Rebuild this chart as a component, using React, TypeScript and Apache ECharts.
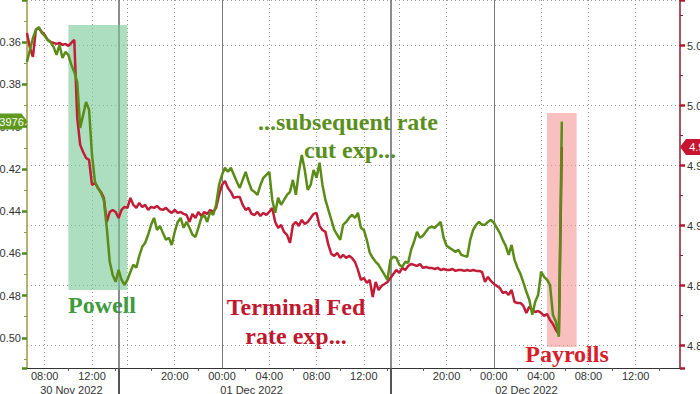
import React, { useEffect, useRef } from "react";
import * as echarts from "echarts";

// "...subsequent rate cut exp..." (left axis, inverted), every 15 min from 30 Nov 06:30
const greenValues = [
  0.3693, 0.3636, 0.3580, 0.3542, 0.3528, 0.3556, 0.3570, 0.3589, 0.3600, 0.3622,
  0.3660, 0.3613, 0.3674, 0.3646, 0.3660, 0.3707, 0.3741, 0.3788, 0.4006, 0.3944,
  0.3883, 0.3920, 0.4134, 0.4261, 0.4290, 0.4313, 0.4347, 0.4479, 0.4640, 0.4702,
  0.4735, 0.4678, 0.4725, 0.4749, 0.4725, 0.4687, 0.4654, 0.4668, 0.4612, 0.4569,
  0.4550, 0.4512, 0.4465, 0.4432, 0.4489, 0.4470, 0.4503, 0.4536, 0.4526, 0.4560,
  0.4498, 0.4451, 0.4432, 0.4479, 0.4451, 0.4479, 0.4512, 0.4522, 0.4479, 0.4432,
  0.4418, 0.4451, 0.4403, 0.4418, 0.4370, 0.4276, 0.4228, 0.4195, 0.4214, 0.4195,
  0.4228, 0.4261, 0.4290, 0.4252, 0.4214, 0.4261, 0.4299, 0.4309, 0.4323, 0.4276,
  0.4242, 0.4228, 0.4214, 0.4347, 0.4408, 0.4337, 0.4370, 0.4347, 0.4323, 0.4309,
  0.4252, 0.4323, 0.4214, 0.4134, 0.4205, 0.4299, 0.4276, 0.4205, 0.4242, 0.4171,
  0.4276, 0.4347, 0.4394, 0.4441, 0.4489, 0.4512, 0.4536, 0.4465, 0.4451, 0.4432,
  0.4418, 0.4432, 0.4408, 0.4479, 0.4489, 0.4536, 0.4597, 0.4621, 0.4640, 0.4654,
  0.4678, 0.4702, 0.4725, 0.4631, 0.4616, 0.4621, 0.4654, 0.4664, 0.4640, 0.4645,
  0.4583, 0.4545, 0.4498, 0.4526, 0.4517, 0.4498, 0.4479, 0.4474, 0.4479, 0.4465,
  0.4451, 0.4526, 0.4564, 0.4574, 0.4583, 0.4593, 0.4583, 0.4607, 0.4612, 0.4616,
  0.4536, 0.4489, 0.4465, 0.4451, 0.4465, 0.4465, 0.4451, 0.4441, 0.4455, 0.4479,
  0.4503, 0.4536, 0.4564, 0.4607, 0.4560, 0.4631, 0.4668, 0.4697, 0.4739, 0.4782,
  0.4820, 0.4891, 0.4829, 0.4796, 0.4687, 0.4711, 0.4725, 0.4749, 0.4891, 0.4924,
  0.4995, 0.3976,
];

// "Terminal Fed rate exp..." (right axis), same timestamps
const redValues = [
  5.0606, 5.0481, 5.0406, 5.0631, 5.0648, 5.0614, 5.0589, 5.0548, 5.0531, 5.0523,
  5.0514, 5.0523, 5.0506, 5.0514, 5.0498, 5.0523, 5.0548, 4.9898, 4.9673, 4.9614,
  4.9564, 4.9548, 4.9339, 4.9356, 4.9314, 4.9281, 4.9231, 4.9031, 4.9114, 4.9131,
  4.9114, 4.9064, 4.9131, 4.9156, 4.9148, 4.9231, 4.9173, 4.9148, 4.9189, 4.9156,
  4.9173, 4.9131, 4.9156, 4.9148, 4.9164, 4.9139, 4.9131, 4.9148, 4.9123, 4.9106,
  4.9131, 4.9106, 4.9114, 4.9098, 4.9089, 4.9031, 4.9098, 4.9064, 4.9114, 4.9081,
  4.9114, 4.9098, 4.9131, 4.9114, 4.9148, 4.9256, 4.9339, 4.9373, 4.9314, 4.9281,
  4.9231, 4.9239, 4.9239, 4.9173, 4.9131, 4.9148, 4.9098, 4.9089, 4.9114, 4.9081,
  4.9106, 4.9089, 4.9114, 4.9148, 4.9031, 4.8981, 4.9006, 4.8948, 4.8923, 4.8856,
  4.9006, 4.9031, 4.8998, 4.9048, 4.9014, 4.9031, 4.9064, 4.9098, 4.9106, 4.8998,
  4.8964, 4.8948, 4.8839, 4.8764, 4.8748, 4.8773, 4.8731, 4.8756, 4.8731, 4.8748,
  4.8731, 4.8698, 4.8631, 4.8548, 4.8564, 4.8523, 4.8548, 4.8406, 4.8531, 4.8464,
  4.8498, 4.8514, 4.8531, 4.8564, 4.8598, 4.8631, 4.8606, 4.8648, 4.8631, 4.8664,
  4.8681, 4.8673, 4.8664, 4.8681, 4.8648, 4.8656, 4.8648, 4.8648, 4.8639, 4.8648,
  4.8631, 4.8639, 4.8631, 4.8631, 4.8639, 4.8623, 4.8631, 4.8631, 4.8623, 4.8631,
  4.8623, 4.8631, 4.8623, 4.8623, 4.8614, 4.8531, 4.8573, 4.8539, 4.8514, 4.8498,
  4.8481, 4.8439, 4.8448, 4.8423, 4.8464, 4.8364, 4.8356, 4.8356, 4.8331, 4.8273,
  4.8323, 4.8298, 4.8281, 4.8289, 4.8273, 4.8248, 4.8264, 4.8214, 4.8181, 4.8131,
  4.8098, 4.9656,
];

const dateLabels: Record<string, string> = {
  "11-30 10:15": "30 Nov 2022",
  "12-01 02:30": "01 Dec 2022",
  "12-02 02:45": "02 Dec 2022",
};
const midnights = ["12-01 00:00", "12-02 00:00"];
const sessionBreaks = ["11-30 15:15", "12-01 15:15"];
const powellBox = { from: "11-30 10:00", to: "11-30 16:00", top: 0.3518, bottom: 0.4773 };
const payrollsBox = { from: "12-02 04:30", to: "12-02 07:00", top: 0.3935, bottom: 0.5044 };

function buildTimes(): string[] {
  const out: string[] = [];
  const pad = (n: number) => String(n).padStart(2, "0");
  const end = Date.UTC(2022, 11, 2, 15, 45);
  for (let t = Date.UTC(2022, 10, 30, 6, 30); t <= end; t += 15 * 60000) {
    const d = new Date(t);
    const day = d.getUTCDate();
    const h = d.getUTCHours();
    const m = d.getUTCMinutes();
    const mins = h * 60 + m;
    if ((day === 30 || day === 1) && mins >= 14 * 60 + 15 && mins <= 15 * 60) continue;
    out.push(`${pad(d.getUTCMonth() + 1)}-${pad(day)} ${pad(h)}:${pad(m)}`);
  }
  return out;
}

const GREEN = "#5a8c17";
const RED = "#c21d38";
const DOT = "#9a9a9a";
const AXFONT = "Liberation Sans";

export default function App() {
  const ref = useRef<HTMLDivElement>(null);
  useEffect(() => {
    if (!ref.current) return;
    document.documentElement.style.overflow = "hidden";
    document.body.style.margin = "0";
    const chart = echarts.init(ref.current, null, { renderer: "svg" });
    const times = buildTimes();
    const hm = (v: string) => v.slice(6);
    const hour = (v: string) => parseInt(v.slice(6, 8), 10);
    const onHour = (v: string) => v.endsWith(":00");
    const lastIdx = greenValues.length - 1;

    const option: any = {
      animation: false,
      backgroundColor: "#ffffff",
      grid: { left: 27, right: 20, top: 0, bottom: 26, containLabel: false, outerBoundsMode: "none" },
      xAxis: [
        {
          type: "category",
          data: times,
          position: "bottom",
          boundaryGap: false,
          axisLine: { onZero: false, lineStyle: { color: "#333", width: 1 } },
          axisTick: {
            show: true,
            length: 3,
            interval: (_i: number, v: string) => onHour(v) && hour(v) % 4 === 2,
            lineStyle: { color: "#555" },
          },
          axisLabel: {
            interval: (_i: number, v: string) => onHour(v) && hour(v) % 4 === 0 && hm(v) !== "16:00",
            formatter: (v: string) => hm(v),
            color: "#333",
            fontSize: 11,
            fontFamily: AXFONT,
            margin: 2,
          },
          splitLine: {
            show: true,
            interval: (_i: number, v: string) => onHour(v) && hour(v) % 4 === 0,
            lineStyle: { color: DOT, type: [1, 3], width: 1 },
          },
        },
        {
          type: "category",
          data: times,
          position: "bottom",
          boundaryGap: false,
          axisLine: { show: false, onZero: false },
          axisTick: { show: false },
          axisLabel: {
            interval: (_i: number, v: string) => dateLabels[v] !== undefined,
            formatter: (v: string) => dateLabels[v] || "",
            color: "#333",
            fontSize: 11,
            fontFamily: AXFONT,
            margin: 16,
          },
          splitLine: {
            show: true,
            interval: (_i: number, v: string) => midnights.includes(v),
            lineStyle: { color: "#7a7a7a", type: "solid", width: 1 },
          },
        },
        {
          type: "category",
          data: times,
          position: "bottom",
          boundaryGap: false,
          axisLine: { show: false, onZero: false },
          axisLabel: { show: false },
          axisTick: {
            show: true,
            length: 26,
            interval: (_i: number, v: string) => sessionBreaks.includes(v),
            lineStyle: { color: "#555", width: 2 },
          },
          splitLine: {
            show: true,
            interval: (_i: number, v: string) => sessionBreaks.includes(v),
            lineStyle: { color: "#666", type: "solid", width: 1.5 },
          },
        },
      ],
      yAxis: [
        {
          type: "value",
          position: "left",
          inverse: true,
          min: 0.34,
          max: 0.5143,
          splitNumber: 8,
          axisLine: { show: true, lineStyle: { color: "#9a9a45", width: 1.5 } },
          axisTick: { show: true, length: 5, lineStyle: { color: "#4f8a1a", width: 2.5 } },
          minorTick: { show: true, splitNumber: 2, length: 3, lineStyle: { color: "#8a9a45" } },
          axisLabel: {
            formatter: (v: number) => v.toFixed(2),
            color: "#333",
            fontSize: 11,
            fontFamily: AXFONT,
            margin: 6,
            showMinLabel: false,
            showMaxLabel: false,
          },
          splitLine: { show: false },
        },
        {
          type: "value",
          position: "right",
          min: 4.7814,
          max: 5.088,
          splitNumber: 6,
          axisLine: { show: true, lineStyle: { color: "#8b1d2c", width: 1.5 } },
          axisTick: { show: true, length: 5, lineStyle: { color: "#b3182e", width: 2.5 } },
          minorTick: { show: true, splitNumber: 2, length: 3, lineStyle: { color: "#8b1d2c" } },
          axisLabel: {
            formatter: (v: number) => v.toFixed(2),
            color: "#333",
            fontSize: 11,
            fontFamily: AXFONT,
            margin: 7,
            showMinLabel: false,
            showMaxLabel: false,
          },
          splitLine: { show: true, lineStyle: { color: DOT, type: [1, 3], width: 1 } },
        },
      ],
      series: [
        {
          type: "line",
          name: "boxes",
          data: [],
          xAxisIndex: 0,
          yAxisIndex: 0,
          z: 1,
          silent: true,
          markArea: {
            silent: true,
            data: [
              [
                { xAxis: powellBox.from, yAxis: powellBox.top, itemStyle: { color: "rgba(120,200,150,0.6)" } },
                { xAxis: powellBox.to, yAxis: powellBox.bottom },
              ],
              [
                { xAxis: payrollsBox.from, yAxis: payrollsBox.top, itemStyle: { color: "rgba(245,150,150,0.6)" } },
                { xAxis: payrollsBox.to, yAxis: payrollsBox.bottom },
              ],
            ],
          },
        },
        {
          type: "line",
          name: "Terminal Fed rate exp",
          data: redValues,
          xAxisIndex: 0,
          yAxisIndex: 1,
          z: 3,
          clip: false,
          showSymbol: false,
          symbol: "none",
          lineStyle: { color: RED, width: 2.5 },
          markPoint: {
            silent: true,
            symbol: "path://M0,8 L6,0 L46,0 L46,16 L6,16 Z",
            symbolSize: [46, 16],
            itemStyle: { color: "#c8152f" },
            label: {
              show: true,
              position: "inside",
              offset: [3, 0],
              color: "#fff",
              fontSize: 11,
              fontFamily: AXFONT,
              formatter: (p: any) => Number(p.value).toFixed(4),
            },
            data: [{ coord: [times[lastIdx], redValues[lastIdx]], x: 703, value: redValues[lastIdx] }],
          },
        },
        {
          type: "line",
          name: "subsequent rate cut exp",
          data: greenValues,
          xAxisIndex: 0,
          yAxisIndex: 0,
          z: 4,
          clip: false,
          showSymbol: false,
          symbol: "none",
          lineStyle: { color: GREEN, width: 2.5 },
          markPoint: {
            silent: true,
            symbol: "path://M0,0 L41,0 L47,8 L41,16 L0,16 Z",
            symbolSize: [47, 16],
            itemStyle: { color: "#5f9a1e" },
            label: {
              show: true,
              position: "inside",
              offset: [3, 0],
              color: "#fff",
              fontSize: 11,
              fontFamily: AXFONT,
              formatter: (p: any) => Number(p.value).toFixed(4),
            },
            data: [{ coord: [times[lastIdx], greenValues[lastIdx]], x: 4, value: greenValues[lastIdx] }],
          },
        },
      ],
      graphic: [
        {
          type: "text",
          x: 102,
          y: 305,
          silent: true,
          style: { text: "Powell", fill: "#3c9b3c", font: 'bold 24px "Liberation Serif"', align: "center", verticalAlign: "middle" },
        },
        {
          type: "text",
          x: 296,
          y: 307,
          silent: true,
          style: { text: "Terminal Fed", fill: "#c0182f", font: 'bold 24px "Liberation Serif"', align: "center", verticalAlign: "middle" },
        },
        {
          type: "text",
          x: 296,
          y: 336,
          silent: true,
          style: { text: "rate exp...", fill: "#c0182f", font: 'bold 24px "Liberation Serif"', align: "center", verticalAlign: "middle" },
        },
        {
          type: "text",
          x: 348,
          y: 122,
          silent: true,
          style: { text: "...subsequent rate", fill: "#5a8f1e", font: 'bold 24px "Liberation Serif"', align: "center", verticalAlign: "middle" },
        },
        {
          type: "text",
          x: 350,
          y: 150,
          silent: true,
          style: { text: "cut exp...", fill: "#5a8f1e", font: 'bold 24px "Liberation Serif"', align: "center", verticalAlign: "middle" },
        },
        {
          type: "text",
          x: 567,
          y: 354,
          silent: true,
          style: { text: "Payrolls", fill: "#d6202a", font: 'bold 24px "Liberation Serif"', align: "center", verticalAlign: "middle" },
        },
      ],
    };
    chart.setOption(option);
    return () => chart.dispose();
  }, []);
  return (
    <div
      ref={ref}
      style={{ position: "absolute", left: 0, top: 0, width: 700, height: 394, background: "#fff" }}
    />
  );
}
